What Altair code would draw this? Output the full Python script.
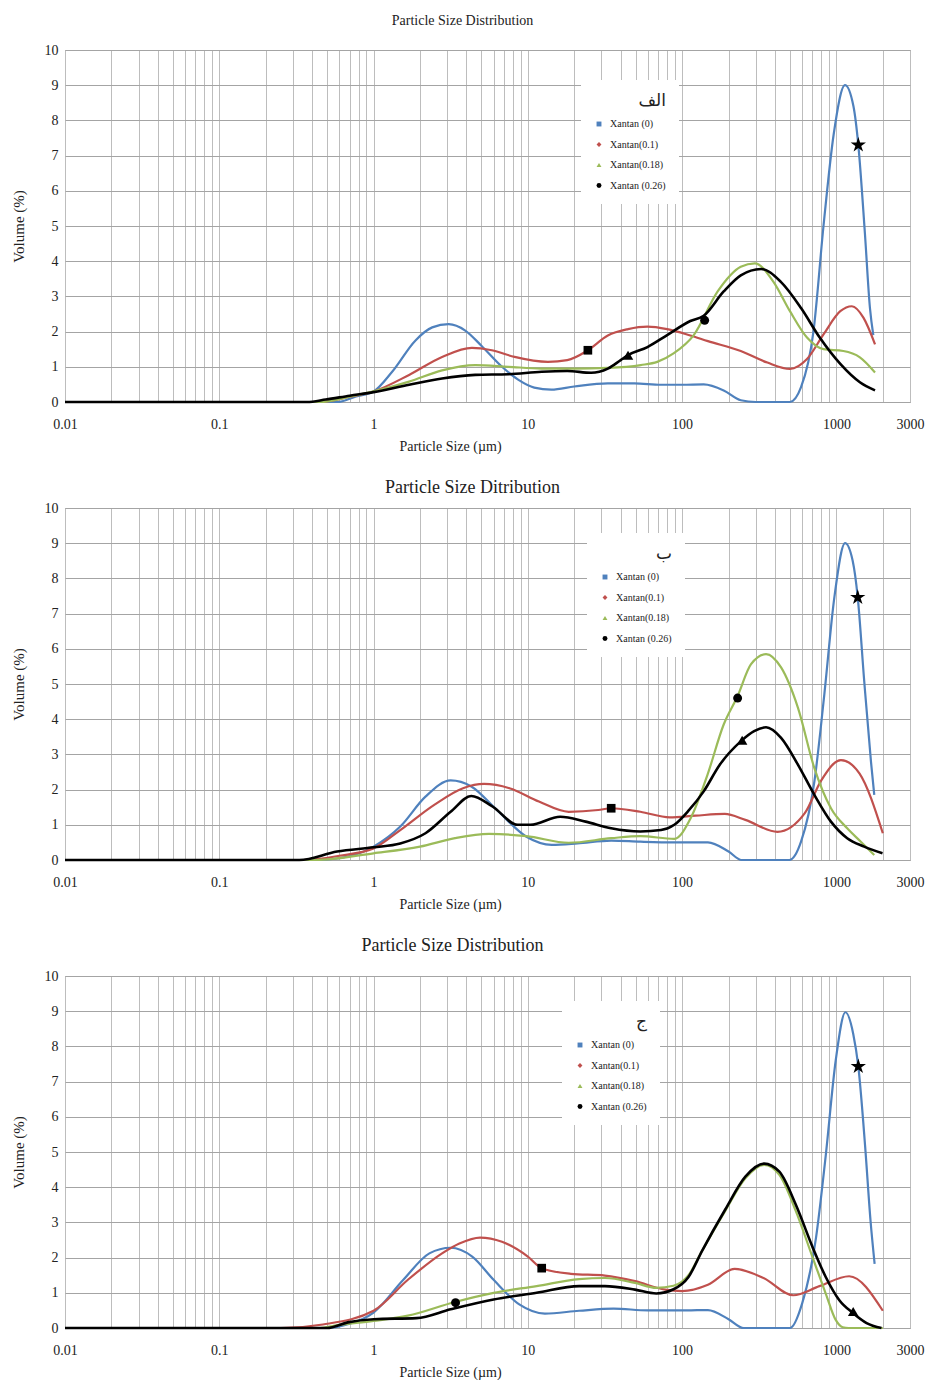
import altair as alt
import pandas as pd

SERIES = ["Xantan (0)", "Xantan(0.1)", "Xantan(0.18)", "Xantan (0.26)"]
COLORS = ["#4F81BD", "#C0504D", "#9BBB59", "#000000"]
LEGEND_SHAPES = ["square", "diamond", "triangle-up", "circle"]
TITLES = ["Particle Size Distribution", "Particle Size Ditribution", "Particle Size Distribution"]
LETTERS = ["الف", "ب", "ج"]
X_LABELS = [0.01, 0.1, 1, 10, 100, 1000, 3000]
Y_TICKS = list(range(0, 11))

# ---------------- panel A (الف) ----------------
A_BLUE_X = [0.01, 0.58, 0.77, 1, 1.32, 1.87, 2.4, 3.07, 3.93, 5.0, 6.8, 8.7, 11, 14.2, 20, 33, 49, 73, 100, 138, 186, 240, 300, 500, 590, 710, 825, 960, 1137, 1290, 1387, 1530, 1650, 1735]
A_BLUE_Y = [0, 0, 0.16, 0.3, 0.86, 1.75, 2.12, 2.21, 2.03, 1.6, 1.0, 0.63, 0.41, 0.35, 0.44, 0.53, 0.53, 0.49, 0.49, 0.5, 0.33, 0.05, 0, 0, 0.42, 2.0, 5.0, 7.6, 9.0, 8.4, 7.3, 4.8, 2.67, 1.9]
A_RED_X = [0.01, 0.45, 0.7, 1, 1.7, 2.78, 4.34, 5.84, 8.2, 13.5, 18, 24.5, 33, 44.6, 59.6, 80, 113, 147, 240, 357, 500, 645, 825, 1060, 1260, 1500, 1780]
A_RED_Y = [0, 0, 0.15, 0.3, 0.77, 1.28, 1.54, 1.47, 1.28, 1.14, 1.19, 1.47, 1.89, 2.07, 2.14, 2.07, 1.89, 1.73, 1.45, 1.12, 0.94, 1.22, 1.92, 2.58, 2.72, 2.39, 1.64]
A_GREEN_X = [0.01, 0.45, 0.7, 1, 1.7, 2.78, 4.56, 7.5, 12.3, 20, 33, 54, 69, 88, 119, 170, 240, 296, 390, 500, 645, 825, 1110, 1420, 1780]
A_GREEN_Y = [0, 0, 0.15, 0.3, 0.58, 0.9, 1.05, 1.0, 0.95, 0.95, 0.97, 1.05, 1.14, 1.38, 1.9, 3.14, 3.84, 3.94, 3.42, 2.58, 1.83, 1.5, 1.45, 1.27, 0.84]
A_BLACK_X = [0.01, 0.37, 0.49, 0.7, 1, 1.7, 2.78, 4.56, 7.5, 12.3, 18, 25.7, 33, 40, 44.6, 59.6, 80, 113, 138, 186, 240, 325, 435, 590, 780, 1060, 1420, 1780]
A_BLACK_Y = [0, 0, 0.07, 0.18, 0.28, 0.49, 0.67, 0.77, 0.79, 0.86, 0.88, 0.83, 0.95, 1.19, 1.33, 1.56, 1.9, 2.3, 2.45, 3.14, 3.6, 3.78, 3.42, 2.67, 1.83, 1.08, 0.56, 0.33]
A_MARK_KIND = ["square", "triangle", "circle", "star"]
A_MARK_X = [24.5, 44.6, 140, 1387]
A_MARK_Y = [1.47, 1.33, 2.32, 7.3]

# ---------------- panel B (ب) ----------------
B_BLUE_X = [0.01, 0.42, 0.6, 1, 1.49, 2.17, 3.16, 4.3, 6.3, 9.8, 14.3, 21, 34.7, 53.6, 89, 147, 200, 243, 496, 590, 720, 835, 970, 1138, 1275, 1375, 1515, 1675, 1760]
B_BLUE_Y = [0, 0, 0.05, 0.38, 0.95, 1.8, 2.26, 2.09, 1.42, 0.66, 0.43, 0.47, 0.55, 0.52, 0.5, 0.5, 0.24, 0, 0, 0.52, 2.23, 4.7, 7.46, 9.0, 8.5, 7.46, 5.08, 2.8, 1.85]
B_RED_X = [0.01, 0.35, 0.6, 1, 1.49, 2.46, 3.8, 5.2, 7.6, 11.8, 18.4, 28.6, 34.7, 53.6, 83, 122, 189, 257, 415, 624, 800, 1070, 1410, 2000]
B_RED_Y = [0, 0, 0.12, 0.33, 0.85, 1.56, 2.04, 2.16, 2.04, 1.66, 1.37, 1.42, 1.47, 1.37, 1.21, 1.26, 1.31, 1.14, 0.8, 1.33, 2.27, 2.84, 2.46, 0.76]
B_GREEN_X = [0.01, 0.42, 1, 2.0, 3.37, 5.6, 9.8, 18.4, 34.7, 53.6, 89, 114, 146, 186, 229, 279, 350, 438, 563, 720, 922, 1175, 1440, 1760]
B_GREEN_Y = [0, 0, 0.19, 0.38, 0.62, 0.74, 0.68, 0.49, 0.62, 0.68, 0.6, 1.2, 2.42, 3.85, 4.66, 5.56, 5.85, 5.47, 4.33, 2.61, 1.47, 0.9, 0.52, 0.14]
B_BLACK_X = [0.01, 0.33, 0.58, 1, 1.49, 2.17, 3.16, 4.3, 5.9, 8.6, 10.4, 16.2, 23.7, 34.7, 53.6, 73, 89, 110, 138, 175, 240, 293, 350, 438, 563, 720, 922, 1175, 1515, 1990]
B_BLACK_Y = [0, 0, 0.24, 0.36, 0.47, 0.76, 1.37, 1.82, 1.52, 1.0, 1.0, 1.23, 1.09, 0.9, 0.81, 0.85, 1.0, 1.4, 1.95, 2.7, 3.37, 3.66, 3.77, 3.47, 2.71, 1.85, 1.09, 0.62, 0.38, 0.19]
B_MARK_KIND = ["square", "circle", "triangle", "star"]
B_MARK_X = [34.7, 229, 245, 1375]
B_MARK_Y = [1.47, 4.6, 3.4, 7.46]

# ---------------- panel C (ج) ----------------
C_BLUE_X = [0.01, 0.5, 0.7, 1, 1.56, 2.3, 3.16, 4.36, 6.0, 8.8, 12.9, 21.5, 36, 60, 107, 147, 200, 251, 500, 600, 738, 853, 990, 1144, 1285, 1387, 1534, 1665, 1770]
C_BLUE_Y = [0, 0, 0.12, 0.44, 1.37, 2.12, 2.28, 2.03, 1.37, 0.67, 0.41, 0.49, 0.55, 0.5, 0.5, 0.51, 0.25, 0, 0, 0.7, 2.57, 4.9, 7.6, 8.97, 8.36, 7.43, 5.19, 3.04, 1.82]
C_RED_X = [0.01, 0.25, 0.47, 1, 1.67, 2.78, 3.6, 4.9, 6.8, 10, 12.3, 19, 31.6, 49.5, 77.6, 100, 147, 219, 337, 525, 776, 1210, 2000]
C_RED_Y = [0, 0, 0.1, 0.49, 1.37, 2.12, 2.4, 2.57, 2.45, 2.03, 1.7, 1.54, 1.49, 1.33, 1.09, 1.05, 1.23, 1.68, 1.42, 0.93, 1.19, 1.47, 0.49]
C_GREEN_X = [0.01, 0.45, 0.56, 1, 1.67, 3.37, 6, 11.4, 21.5, 31.6, 49.5, 68, 88, 110, 135, 190, 257, 340, 427, 546, 702, 853, 990, 1100, 1200, 2000]
C_GREEN_Y = [0, 0, 0.07, 0.2, 0.35, 0.74, 1.0, 1.19, 1.39, 1.42, 1.28, 1.14, 1.2, 1.5, 2.2, 3.32, 4.25, 4.63, 4.35, 3.32, 2.0, 0.98, 0.23, 0.02, 0, 0]
C_BLACK_X = [0.01, 0.5, 0.68, 1, 1.9, 3.16, 6, 11.4, 21.5, 31.6, 49.5, 68, 88, 110, 135, 190, 257, 340, 427, 546, 702, 853, 1045, 1285, 1570, 1960]
C_BLACK_Y = [0, 0, 0.16, 0.25, 0.28, 0.53, 0.81, 1.0, 1.19, 1.19, 1.09, 0.98, 1.1, 1.45, 2.2, 3.36, 4.3, 4.67, 4.44, 3.5, 2.29, 1.45, 0.79, 0.42, 0.14, 0.0]
C_MARK_KIND = ["square", "circle", "triangle", "star"]
C_MARK_X = [12.3, 3.4, 1285, 1387]
C_MARK_Y = [1.7, 0.72, 0.47, 7.43]

# ---------------- styling ----------------
FONT = "Liberation Serif"
TXT = "#222222"
STAR = "M0,-1L0.2245,-0.309L0.951,-0.309L0.363,0.118L0.588,0.809L0,0.382L-0.588,0.809L-0.363,0.118L-0.951,-0.309L-0.2245,-0.309Z"
MARK_SHAPES = {"square": "square", "triangle": "triangle-up", "circle": "circle", "star": STAR}
MARK_SIZES = {"square": 75, "triangle": 110, "circle": 80, "star": 260}

GRID_VALUES = [m * 10 ** e for e in range(-2, 4) for m in range(1, 10) if m * 10 ** e <= 3000]
LABEL_EXPR = ("indexof([" + ",".join(str(v) for v in X_LABELS) + "], datum.value) >= 0 ? format(datum.value, '~g') : ''")

W, H = 845, 352


def curves_df(xs_list, ys_list):
    frames = []
    for name, xs, ys in zip(SERIES, xs_list, ys_list):
        frames.append(pd.DataFrame({"size": xs, "vol": ys, "series": name}))
    return pd.concat(frames, ignore_index=True)


def panel(xs_list, ys_list, kinds, mx, my, title, letter, lx, ly, tsize, tdx, toffset):
    df = curves_df(xs_list, ys_list)
    mdf = pd.DataFrame({"size": mx, "vol": my, "kind": kinds})

    x_enc = alt.X("size:Q",
                  scale=alt.Scale(type="log", domain=[0.01, 3000], nice=False),
                  axis=alt.Axis(values=GRID_VALUES, labelExpr=LABEL_EXPR, title="Particle Size (µm)",
                                grid=True, gridColor="#bdbdbd", gridWidth=1, ticks=False, domain=False,
                                labelFont=FONT, labelFontSize=14, labelColor=TXT, labelPadding=15,
                                labelOverlap=False, labelFlush=False, labelBound=False,
                                titleFont=FONT, titleFontSize=14, titleFontWeight="normal",
                                titleColor=TXT, titlePadding=8, titleX=385))
    y_enc = alt.Y("vol:Q",
                  scale=alt.Scale(domain=[0, 10], nice=False),
                  axis=alt.Axis(values=Y_TICKS, title="Volume (%)", grid=True, gridColor="#a4a4a4",
                                gridWidth=1, ticks=False, domain=False,
                                labelFont=FONT, labelFontSize=14, labelColor=TXT, labelPadding=7,
                                titleFont=FONT, titleFontSize=15, titleFontWeight="normal",
                                titleColor=TXT, titlePadding=18))

    legend = alt.Legend(orient="none", legendX=lx, legendY=ly,
                        titleFont="DejaVu Sans", titleFontSize=17, titleFontWeight="normal",
                        titleColor=TXT, titleAnchor="end", titlePadding=9,
                        labelFont=FONT, labelFontSize=10, labelColor=TXT, labelOffset=6,
                        symbolSize=24, symbolOpacity=1, symbolStrokeWidth=0,
                        fillColor="white", padding=13, rowPadding=10.5)

    color_scale = alt.Scale(domain=SERIES, range=COLORS)
    shape_scale = alt.Scale(domain=SERIES, range=LEGEND_SHAPES)

    legend_pts = alt.Chart(df).mark_point(filled=True, opacity=0).encode(
        x=x_enc, y=y_enc,
        color=alt.Color("series:N", scale=color_scale, title=letter, legend=legend),
        shape=alt.Shape("series:N", scale=shape_scale, title=letter, legend=legend),
    )
    lines = alt.Chart(df).mark_line(interpolate="monotone").encode(
        x=x_enc, y=y_enc,
        stroke=alt.Stroke("series:N", scale=color_scale, legend=None),
        strokeWidth=alt.condition(alt.datum.series == SERIES[3], alt.value(2.6), alt.value(2.2)),
    )
    layers = [legend_pts, lines]
    for k in ["square", "triangle", "circle", "star"]:
        sub = mdf[mdf["kind"] == k]
        layers.append(
            alt.Chart(sub).mark_point(shape=MARK_SHAPES[k], filled=True, color="black",
                                      opacity=1, size=MARK_SIZES[k]).encode(x=x_enc, y=y_enc)
        )
    return alt.layer(*layers).properties(
        width=W, height=H,
        title=alt.TitleParams(title, font=FONT, fontSize=tsize, fontWeight="normal",
                              color=TXT, dx=tdx, offset=toffset, anchor="middle"),
    )


pA = panel([A_BLUE_X, A_RED_X, A_GREEN_X, A_BLACK_X], [A_BLUE_Y, A_RED_Y, A_GREEN_Y, A_BLACK_Y],
           A_MARK_KIND, A_MARK_X, A_MARK_Y, TITLES[0], LETTERS[0], 516, 30, 14, -25, 15)
pB = panel([B_BLUE_X, B_RED_X, B_GREEN_X, B_BLACK_X], [B_BLUE_Y, B_RED_Y, B_GREEN_Y, B_BLACK_Y],
           B_MARK_KIND, B_MARK_X, B_MARK_Y, TITLES[1], LETTERS[1], 522, 25, 18, -15, 4)
pC = panel([C_BLUE_X, C_RED_X, C_GREEN_X, C_BLACK_X], [C_BLUE_Y, C_RED_Y, C_GREEN_Y, C_BLACK_Y],
           C_MARK_KIND, C_MARK_X, C_MARK_Y, TITLES[2], LETTERS[2], 497, 25, 18, -35, 14)

chart = alt.vconcat(pA, pB, pC, spacing=24).resolve_scale(
    color="independent", shape="independent", stroke="independent"
).properties(
    padding={"top": 5, "left": 2, "right": 5, "bottom": 0},
    background="white",
).configure_view(stroke="#9a9a9a", strokeWidth=1)

chart.save("out.html", embed_options={"renderer": "svg", "actions": False})
